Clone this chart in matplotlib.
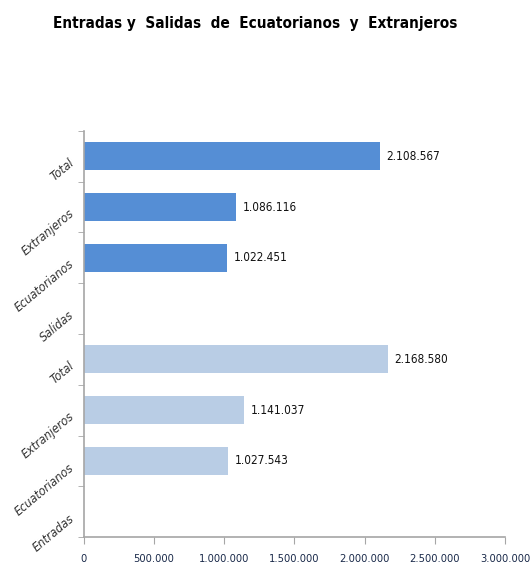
import matplotlib.pyplot as plt

# categorias de abajo hacia arriba
labels = ['Entradas', 'Ecuatorianos', 'Extranjeros', 'Total',
          'Salidas', 'Ecuatorianos', 'Extranjeros', 'Total']
entradas = [1027543, 1141037, 2168580]
salidas = [1022451, 1086116, 2108567]
xticks = [0, 500000, 1000000, 1500000, 2000000, 2500000, 3000000]

plt.rcParams['font.family'] = ['DejaVu Sans']
plt.rcParams['font.stretch'] = 'condensed'

def fmt(v):
    return f'{v:,}'.replace(',', '.')

fig = plt.figure(figsize=(5.31, 5.69), dpi=100)
ax = fig.add_axes([0.158, 0.056, 0.793, 0.714])

pos_ent = [1, 2, 3]
pos_sal = [5, 6, 7]
ax.barh(pos_ent, entradas, height=0.55, color='#B9CDE5')
ax.barh(pos_sal, salidas, height=0.55, color='#558ED5')

for p, v in zip(pos_ent + pos_sal, entradas + salidas):
    ax.text(v + 45000, p, fmt(v), va='center', ha='left', fontsize=8.5,
            color='#111111', stretch='condensed')

ax.set_xlim(0, 3000000)
ax.set_ylim(-0.5, 7.5)
ax.set_xticks(xticks)
ax.set_xticklabels([fmt(t) for t in xticks], fontsize=8, color='#1a2a4a',
                   stretch='condensed')
ax.set_yticks(range(8))
ax.set_yticklabels(labels, rotation=40, fontsize=9, style='italic',
                   color='#333333', ha='right', va='top',
                   rotation_mode='anchor', stretch='condensed')
ax.set_yticks([i - 0.5 for i in range(9)], minor=True)
ax.tick_params(axis='y', which='major', length=0, pad=11)
ax.tick_params(axis='y', which='minor', length=4, color='#A6A6A6')
ax.tick_params(axis='x', length=5, color='#A6A6A6', pad=7)

for s in ['top', 'right']:
    ax.spines[s].set_visible(False)
for s in ['left', 'bottom']:
    ax.spines[s].set_color('#A6A6A6')
    ax.spines[s].set_linewidth(1.2)

fig.text(0.48, 0.958, 'Entradas y  Salidas  de  Ecuatorianos  y  Extranjeros',
         ha='center', va='center', fontsize=11, fontweight='bold',
         stretch='condensed')

fig.savefig('out.png', dpi=100)
